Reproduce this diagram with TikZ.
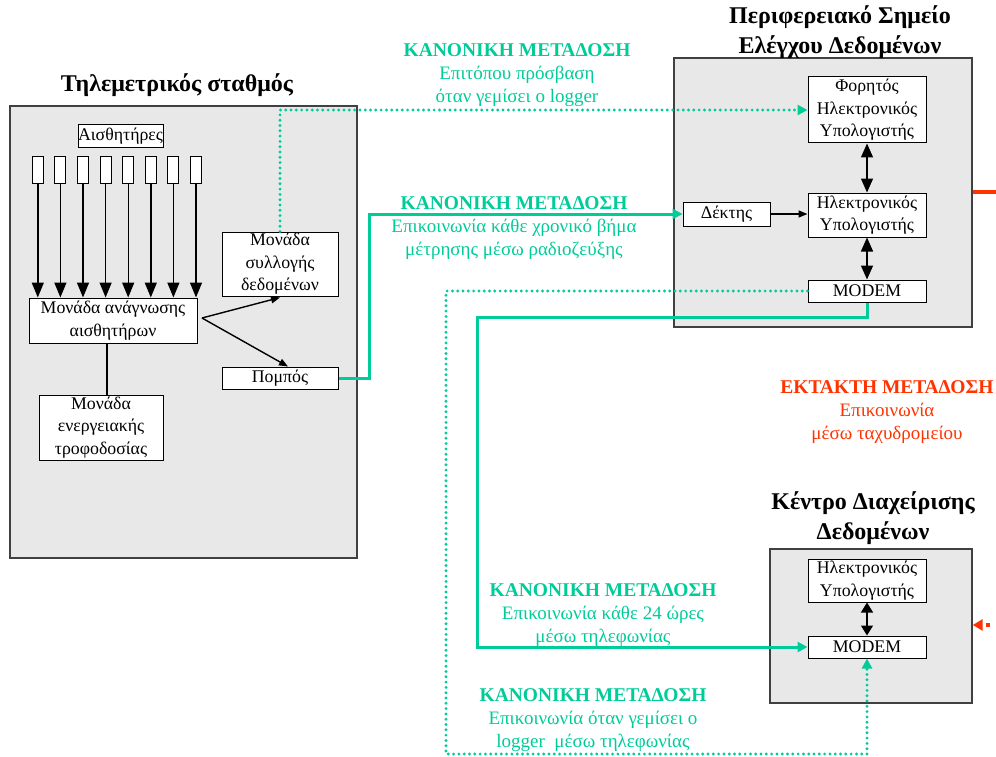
\documentclass[tikz,border=0pt]{standalone}
\usepackage{fontspec}
\setmainfont{Liberation Serif}
\usetikzlibrary{arrows.meta}
\definecolor{tgreen}{RGB}{0,204,153}
\definecolor{torange}{RGB}{255,51,0}
\definecolor{boxgray}{RGB}{232,232,232}
\tikzset{
 container/.style={draw=black!75, line width=1.4pt, fill=boxgray, inner sep=0pt},
 unit/.style={draw=black, line width=1pt, fill=white, inner sep=0pt, align=center, font=\fontsize{17.8}{22.5}\selectfont},
 sensor/.style={draw=black, line width=1pt, fill=white, minimum width=11pt, minimum height=26pt, inner sep=0pt},
 titletext/.style={align=center, font=\bfseries\fontsize{24}{30}\selectfont},
 glabel/.style={align=center, text=tgreen, font=\fontsize{19}{23}\selectfont},
 olabel/.style={align=center, text=torange, font=\fontsize{19}{23}\selectfont},
 bigarrow/.style={line width=1.4pt, -{Triangle[width=12pt,length=15pt]}},
 dblarrow/.style={line width=1.4pt, {Triangle[width=12pt,length=14pt]}-{Triangle[width=12pt,length=14pt]}},
 smallarrow/.style={line width=1.4pt, -{Triangle[width=7pt,length=9pt]}},
 gsolid/.style={draw=tgreen, line width=3pt, -{Triangle[width=10pt,length=10pt]}},
 gdot/.style={draw=tgreen, line width=3.2pt, line cap=round, dash pattern=on 0pt off 5.3pt, -{Triangle[width=10pt,length=10pt]}},
}
\newcommand{\hd}[1]{{\bfseries\fontsize{19.5}{23}\selectfont #1}}
\begin{document}
\begin{tikzpicture}[x=1pt,y=-1pt]
\useasboundingbox (0,0) rectangle (996,757);
% containers
\node[container, minimum width=347pt, minimum height=452pt] (station) at (183.5,332) {};
\node[container, minimum width=298pt, minimum height=269pt] (periph) at (823,192.5) {};
\node[container, minimum width=202pt, minimum height=154pt] (kentro) at (871,626) {};
% titles
\node[titletext] (t1) at (177,85) {Τηλεμετρικός σταθμός};
\node[titletext] (t2) at (840,32) {Περιφερειακό Σημείο\\Ελέγχου Δεδομένων};
\node[titletext] (t3) at (873,518) {Κέντρο Διαχείρισης\\Δεδομένων};
% station units
\node[unit, minimum width=85pt, minimum height=23pt] (sens) at (120.5,136.5) {Αισθητήρες};
\foreach \i/\x in {1/37.8,2/60.4,3/83,4/105.6,5/128.2,6/150.8,7/173.4,8/196}
  \node[sensor] (s\i) at (\x,170) {};
\node[unit, minimum width=168pt, minimum height=45pt] (reader) at (113,320.5) {Μονάδα ανάγνωσης\\αισθητήρων};
\node[unit, minimum width=116pt, minimum height=64pt] (collect) at (280,264) {Μονάδα\\συλλογής\\δεδομένων};
\node[unit, minimum width=116pt, minimum height=22pt] (pompos) at (280,378) {Πομπός};
\node[unit, minimum width=124pt, minimum height=65pt] (energy) at (101,427.5) {Μονάδα\\ενεργειακής\\τροφοδοσίας};
% periph units
\node[unit, minimum width=118pt, minimum height=66pt] (fort) at (867,110) {Φορητός\\Ηλεκτρονικός\\Υπολογιστής};
\node[unit, minimum width=118pt, minimum height=44pt] (pc1) at (867,215) {Ηλεκτρονικός\\Υπολογιστής};
\node[unit, minimum width=87pt, minimum height=24pt] (dektis) at (726.5,214) {Δέκτης};
\node[unit, minimum width=118pt, minimum height=22pt] (modem1) at (867,291) {MODEM};
% kentro units
\node[unit, minimum width=118pt, minimum height=43pt] (pc2) at (867,580.5) {Ηλεκτρονικός\\Υπολογιστής};
\node[unit, minimum width=118pt, minimum height=22pt] (modem2) at (867,647) {MODEM};
% labels
\node[glabel] (l1) at (517,75) {\hd{ΚΑΝΟΝΙΚΗ ΜΕΤΑΔΟΣΗ}\\Επιτόπου πρόσβαση\\όταν γεμίσει ο logger};
\node[glabel] (l2) at (514,228) {\hd{ΚΑΝΟΝΙΚΗ ΜΕΤΑΔΟΣΗ}\\Επικοινωνία κάθε χρονικό βήμα\\μέτρησης μέσω ραδιοζεύξης};
\node[glabel] (l3) at (603,615) {\hd{ΚΑΝΟΝΙΚΗ ΜΕΤΑΔΟΣΗ}\\Επικοινωνία κάθε 24 ώρες\\μέσω τηλεφωνίας};
\node[glabel] (l4) at (593,720) {\hd{ΚΑΝΟΝΙΚΗ ΜΕΤΑΔΟΣΗ}\\Επικοινωνία όταν γεμίσει ο\\logger\ \ μέσω τηλεφωνίας};
\node[olabel] (l5) at (887,412) {\hd{ΕΚΤΑΚΤΗ ΜΕΤΑΔΟΣΗ}\\Επικοινωνία\\μέσω ταχυδρομείου};
% sensor arrows
\foreach \i in {1,...,8}
  \draw[bigarrow] (s\i.south) -- (s\i.south |- reader.north);
% reader connections
\coordinate (fork) at (202,318);
\draw[smallarrow] (fork) -- ([yshift=-1pt]collect.south);
\draw[smallarrow] (fork) -- ([xshift=8pt]pompos.north);
\draw[line width=1.4pt] ([xshift=-6pt]reader.south) -- ([xshift=-6pt]reader.south |- energy.north);
% periph internal
\draw[dblarrow] (fort.south) -- (pc1.north);
\draw[dblarrow] (pc1.south) -- (modem1.north);
\draw[smallarrow] (dektis.east) -- (dektis.east -| pc1.west);
\draw[line width=1.4pt, {Triangle[width=12pt,length=10pt]}-{Triangle[width=12pt,length=10pt]}] (pc2.south) -- (modem2.north);
% green connectors
\draw[gdot] (collect.north) -- (collect.north |- fort.west) -- (fort.west);
\draw[gsolid] (pompos.east) -- (369,378) -- (369,214) -- (dektis.west);
\draw[gdot] (modem1.west) -- (446,291) -- (446,754) -- (867,754) -- (modem2.south);
\draw[gsolid] (modem1.south) -- (867,317) -- (477,317) -- (477,647) -- (modem2.west);
% orange connectors
\coordinate (oend) at (998,192);
\coordinate (ostart) at (1002,625);
\draw[draw=torange, line width=4pt] (periph.east |- oend) -- (oend);
\draw[draw=torange, line width=4pt, dash pattern=on 4pt off 8pt, -{Triangle[width=11pt,length=10pt]}] (ostart) -- (ostart -| kentro.east);
\end{tikzpicture}
\end{document}
